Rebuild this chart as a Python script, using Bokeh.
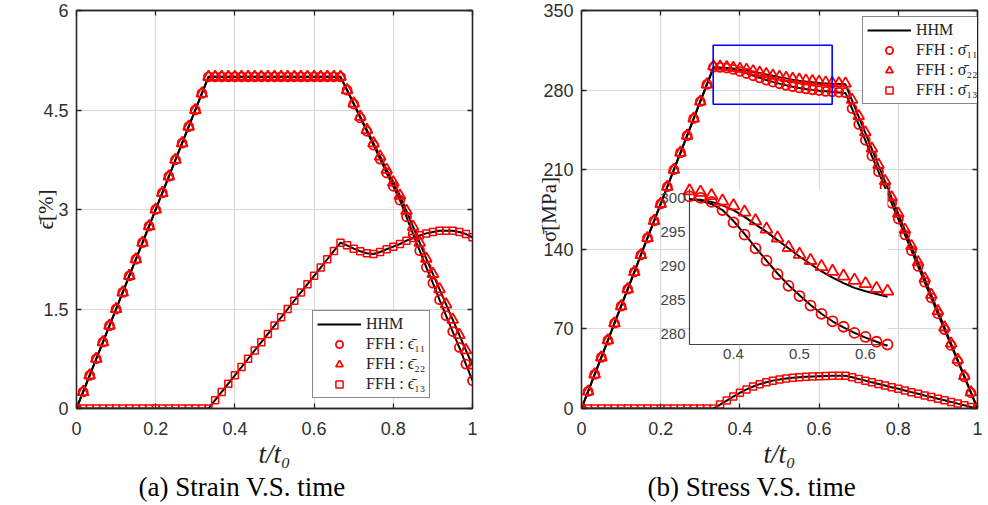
from bokeh.plotting import figure
from bokeh.models import Range1d, Legend, LegendItem, LinearAxis, FixedTicker, Title
from bokeh.layouts import row
from bokeh.embed import file_html
from bokeh.resources import INLINE
from bokeh.core.properties import value

# ---------------- data ----------------
t = [0.0, 0.0167, 0.0333, 0.05, 0.0667, 0.0833, 0.1, 0.1167, 0.1333, 0.15,
     0.1667, 0.1833, 0.2, 0.2167, 0.2333, 0.25, 0.2667, 0.2833, 0.3, 0.3167,
     0.3333, 0.35, 0.3667, 0.3833, 0.4, 0.4167, 0.4333, 0.45, 0.4667, 0.4833,
     0.5, 0.5167, 0.5333, 0.55, 0.5667, 0.5833, 0.6, 0.6167, 0.6333, 0.65,
     0.6667, 0.6833, 0.7, 0.7167, 0.7333, 0.75, 0.7667, 0.7833, 0.8, 0.8167,
     0.8333, 0.85, 0.8667, 0.8833, 0.9, 0.9167, 0.9333, 0.95, 0.9667, 0.9833, 1.0]

# strain [%]
e11_ffh = [0.0, 0.25, 0.5, 0.75, 1.0, 1.25, 1.5, 1.75, 2.0, 2.25, 2.5, 2.75, 3.0, 3.25, 3.5,
           3.75, 4.0, 4.25, 4.5, 4.75, 5.0,
           5.0, 5.0, 5.0, 5.0, 5.0, 5.0, 5.0, 5.0, 5.0, 5.0,
           5.0, 5.0, 5.0, 5.0, 5.0, 5.0, 5.0, 5.0, 5.0, 5.0,
           4.80, 4.59, 4.38, 4.18, 3.97, 3.76, 3.55, 3.35, 3.14, 2.89,
           2.63, 2.38, 2.13, 1.89, 1.64, 1.40, 1.16, 0.92, 0.67, 0.42]
e22_ffh = [0.0, 0.25, 0.5, 0.75, 1.0, 1.25, 1.5, 1.75, 2.0, 2.25, 2.5, 2.75, 3.0, 3.25, 3.5,
           3.75, 4.0, 4.25, 4.5, 4.75, 5.0,
           5.0, 5.0, 5.0, 5.0, 5.0, 5.0, 5.0, 5.0, 5.0, 5.0,
           5.0, 5.0, 5.0, 5.0, 5.0, 5.0, 5.0, 5.0, 5.0, 5.0,
           4.80, 4.60, 4.40, 4.20, 4.00, 3.80, 3.60, 3.41, 3.21, 2.98,
           2.74, 2.50, 2.26, 2.03, 1.80, 1.57, 1.34, 1.11, 0.88, 0.65]
e13_ffh = [0.0] * 21 + [
           0.125, 0.25, 0.375, 0.5, 0.625, 0.75, 0.875, 1.0, 1.125, 1.25,
           1.375, 1.5, 1.625, 1.75, 1.875, 2.0, 2.125, 2.25, 2.375, 2.5,
           2.46, 2.41, 2.37, 2.34, 2.33, 2.36, 2.40, 2.44, 2.48, 2.53,
           2.57, 2.61, 2.64, 2.66, 2.68, 2.68, 2.68, 2.66, 2.63, 2.58]
e11_hhm = e11_ffh
e22_hhm = e22_ffh
e13_hhm = e13_ffh

# stress [MPa]
ramp = [0.0, 15.0, 30.0, 45.0, 60.0, 75.0, 90.0, 105.0, 120.0, 135.0,
        150.0, 165.0, 180.0, 195.0, 210.0, 225.0, 240.0, 255.0, 270.0, 285.0]
s11_ffh = ramp + [
    300.2, 300.0, 299.4, 298.2, 296.4, 294.6, 292.6, 290.8, 288.8, 287.1,
    285.6, 284.2, 283.0, 281.9, 281.1, 280.2, 279.6, 278.9, 278.5, 278.1, 277.7,
    263.8, 249.9, 236.0, 222.1, 208.3, 194.4, 180.5, 166.6, 152.7, 138.8,
    124.9, 111.1, 97.2, 83.3, 69.4, 55.5, 41.6, 27.8, 13.9, 0.0]
s22_ffh = ramp + [
    301.0, 300.8, 300.3, 299.5, 298.8, 297.9, 296.6, 295.4, 294.1, 292.7,
    291.7, 290.8, 289.9, 289.2, 288.5, 287.9, 287.4, 286.7, 286.3, 286.0, 285.8,
    271.5, 257.2, 242.9, 228.6, 214.3, 200.0, 185.7, 171.4, 157.2, 142.9,
    128.6, 114.3, 100.0, 85.7, 71.4, 57.2, 42.9, 28.6, 14.3, 0.0]
s13_ffh = [0.0] * 21 + [
    3.5, 7.0, 10.5, 13.8, 16.8, 19.3, 21.4, 23.1, 24.5, 25.6,
    26.4, 27.0, 27.5, 27.9, 28.2, 28.4, 28.6, 28.7, 28.8, 28.8,
    27.4, 25.9, 24.5, 23.0, 21.6, 20.2, 18.7, 17.3, 15.8, 14.4,
    13.0, 11.5, 10.1, 8.6, 7.2, 5.8, 4.3, 2.9, 1.4, 0.0]
s11_hhm = ramp + [
    299.8, 299.6, 299.1, 298.2, 296.6, 294.7, 292.7, 290.8, 288.9, 287.2,
    285.7, 284.3, 283.0, 281.9, 281.0, 280.2, 279.5, 278.9, 278.3, 277.9, 277.5,
    263.6, 249.8, 235.9, 222.0, 208.1, 194.3, 180.4, 166.5, 152.6, 138.8,
    124.9, 111.0, 97.1, 83.3, 69.4, 55.5, 41.6, 27.8, 13.9, 0.0]
s22_hhm = ramp + [
    299.8, 299.7, 299.4, 298.9, 298.2, 297.2, 296.1, 295.0, 293.8, 292.6,
    291.4, 290.3, 289.2, 288.3, 287.5, 286.8, 286.3, 285.9, 285.5, 285.3, 285.1,
    270.8, 256.6, 242.3, 228.1, 213.8, 199.6, 185.3, 171.1, 156.8, 142.6,
    128.3, 114.1, 99.8, 85.6, 71.3, 57.0, 42.8, 28.5, 14.3, 0.0]
s13_hhm = s13_ffh

x_ticks = [0, 0.2, 0.4, 0.6, 0.8, 1.0]
x_tick_labels = ["0", "0.2", "0.4", "0.6", "0.8", "1"]
strain_ticks = [0, 1.5, 3, 4.5, 6]
strain_tick_labels = ["0", "1.5", "3", "4.5", "6"]
stress_ticks = [0, 70, 140, 210, 280, 350]
stress_tick_labels = ["0", "70", "140", "210", "280", "350"]

# zoom window (inset)
inset_t = [0.3333, 0.6333]
inset_s = [278.5, 301.3]
inset_x_ticks = [0.4, 0.5, 0.6]
inset_x_labels = ["0.4", "0.5", "0.6"]
inset_y_ticks = [280, 285, 290, 295, 300]
inset_y_labels = ["280", "285", "290", "295", "300"]
zoom_box_t = [0.3326, 0.633]
zoom_box_s = [267.5, 319.5]
inset_first, inset_last = 20, 39  # sample indices shown in inset

# ---------------- styling helpers ----------------
RED = "#ff0000"
AX = "#262626"
TICK_FONT = "Liberation Sans"
SERIF = "Liberation Serif"


def mirror_axis(ticks):
    return LinearAxis(ticker=FixedTicker(ticks=ticks), major_label_text_font_size="1px",
                      major_label_text_color=None, major_tick_in=5, major_tick_out=0,
                      minor_tick_line_color=None, axis_line_color=AX, axis_line_width=1.3,
                      major_tick_line_color=AX, major_tick_line_width=1.3,
                      major_label_standoff=0)


def make_fig(yr, yticks, ylabels, ylabel, border_left, border_right, label_standoff):
    p = figure(frame_width=396, frame_height=398, output_backend="svg",
               toolbar_location=None, x_range=Range1d(0, 1), y_range=Range1d(*yr),
               min_border_left=border_left, min_border_right=border_right,
               min_border_top=10, min_border_bottom=94)
    p.background_fill_color = "white"
    p.border_fill_color = "white"
    p.outline_line_color = AX
    p.outline_line_width = 1.3
    for ax, ticks, labels in ((p.xaxis[0], x_ticks, x_tick_labels),
                              (p.yaxis[0], yticks, ylabels)):
        ax.ticker = FixedTicker(ticks=ticks)
        ax.major_label_overrides = {tk: lb for tk, lb in zip(ticks, labels)}
        ax.major_tick_in = 5
        ax.major_tick_out = 0
        ax.minor_tick_line_color = None
        ax.axis_line_color = AX
        ax.axis_line_width = 1.3
        ax.major_tick_line_color = AX
        ax.major_tick_line_width = 1.3
        ax.major_label_text_font = TICK_FONT
        ax.major_label_text_font_size = "18px"
        ax.major_label_text_color = "#303030"
        ax.axis_label_text_font = SERIF
        ax.axis_label_text_font_style = "italic"
        ax.axis_label_text_color = "#222222"
    p.xaxis[0].major_label_standoff = 13
    p.yaxis[0].major_label_standoff = 8
    p.xaxis[0].axis_label = "t/t₀"
    p.xaxis[0].axis_label_text_font_size = "27px"
    p.xaxis[0].axis_label_standoff = 1
    p.yaxis[0].axis_label = ylabel
    p.yaxis[0].axis_label_text_font_size = "21px"
    p.yaxis[0].axis_label_text_font_style = "normal"
    p.yaxis[0].axis_label_standoff = label_standoff
    p.add_layout(mirror_axis(x_ticks), "above")
    p.add_layout(mirror_axis(yticks), "right")
    p.xgrid.ticker = FixedTicker(ticks=x_ticks)
    p.ygrid.ticker = FixedTicker(ticks=yticks)
    p.grid.grid_line_color = "#d9d9d9"
    p.grid.grid_line_width = 1.2
    return p


def add_caption(p, text, offset):
    cap = Title(text=text, align="left", offset=offset, text_font=SERIF,
                text_font_size="27px", text_font_style="normal", text_color="black",
                standoff=-3)
    p.add_layout(cap, "below")


def make_legend(items, loc):
    lg = Legend(items=items, location=loc, glyph_width=44, glyph_height=18,
                label_height=18, label_text_font=SERIF, label_text_font_size="16px",
                label_text_color="#222222", label_standoff=5, padding=4, spacing=2,
                margin=0, border_line_color="#111111", border_line_width=1.6,
                background_fill_color="white", background_fill_alpha=1.0)
    return lg


# ---------------- (a) strain ----------------
p1 = make_fig((0, 6), strain_ticks, strain_tick_labels, "ϵ̄[%]", 76, 20, -18)
add_caption(p1, "(a) Strain V.S. time", 62)

l1 = p1.line(t, e11_hhm, line_color="black", line_width=2)
p1.line(t, e22_hhm, line_color="black", line_width=2)
p1.line(t, e13_hhm, line_color="black", line_width=2)
c1 = p1.scatter(t, e11_ffh, marker="circle", size=9, line_color=RED, fill_color=None, line_width=1.8)
tr1 = p1.scatter(t, e22_ffh, marker="triangle", size=11, line_color=RED, fill_color=None, line_width=1.8)
sq1 = p1.scatter(t, e13_ffh, marker="square", size=7, line_color=RED, fill_color=None, line_width=1.5)

p1.add_layout(make_legend([
    LegendItem(label="HHM", renderers=[l1]),
    LegendItem(label="FFH : ϵ̄₁₁", renderers=[c1]),
    LegendItem(label="FFH : ϵ̄₂₂", renderers=[tr1]),
    LegendItem(label="FFH : ϵ̄₁₃", renderers=[sq1]),
], (236, 10)), "center")

# ---------------- (b) stress ----------------
p2 = make_fig((0, 350), stress_ticks, stress_tick_labels, "σ̄[MPa]", 89, 10, -21)
add_caption(p2, "(b) Stress V.S. time", 66)

l2 = p2.line(t, s11_hhm, line_color="black", line_width=2)
p2.line(t, s22_hhm, line_color="black", line_width=2)
p2.line(t, s13_hhm, line_color="black", line_width=2)
c2 = p2.scatter(t, s11_ffh, marker="circle", size=9, line_color=RED, fill_color=None, line_width=1.8)
tr2 = p2.scatter(t, s22_ffh, marker="triangle", size=11, line_color=RED, fill_color=None, line_width=1.8)
sq2 = p2.scatter(t, s13_ffh, marker="square", size=7, line_color=RED, fill_color=None, line_width=1.5)

p2.quad(left=[zoom_box_t[0]], right=[zoom_box_t[1]], bottom=[zoom_box_s[0]], top=[zoom_box_s[1]],
        fill_color=None, line_color="#0000ff", line_width=1.6)

# inset drawn through a sub-coordinate mapping of the main plot
xy = p2.subplot(x_source=Range1d(*inset_t), y_source=Range1d(*inset_s),
                x_target=Range1d(0.2727, 0.7727), y_target=Range1d(56.3, 193.1))
xy.quad(left=[inset_t[0]], right=[inset_t[1]], bottom=[inset_s[0]], top=[inset_s[1]],
        fill_color="white", line_color=None)
xy.line([inset_t[0], inset_t[0], inset_t[1]], [inset_s[1], inset_s[0], inset_s[0]],
        line_color="#444444", line_width=1.2)
ti = t[inset_first:inset_last]
xy.line(ti, s11_hhm[inset_first:inset_last], line_color="black", line_width=2)
xy.line(ti, s22_hhm[inset_first:inset_last], line_color="black", line_width=2)
xy.scatter(ti, s11_ffh[inset_first:inset_last], marker="circle", size=10, line_color=RED,
           fill_color=None, line_width=1.8)
xy.scatter(ti, s22_ffh[inset_first:inset_last], marker="triangle", size=12, line_color=RED,
           fill_color=None, line_width=1.8)
xy.text(x=inset_x_ticks, y=[inset_s[0]] * len(inset_x_ticks), text=inset_x_labels,
        text_align="center", text_baseline="top", y_offset=5,
        text_font=value(TICK_FONT), text_font_size="15px", text_color="#444444")
xy.text(x=[inset_t[0]] * len(inset_y_ticks), y=inset_y_ticks, text=inset_y_labels,
        text_align="right", text_baseline="middle", x_offset=-4,
        text_font=value(TICK_FONT), text_font_size="15px", text_color="#444444")

p2.add_layout(make_legend([
    LegendItem(label="HHM", renderers=[l2]),
    LegendItem(label="FFH : σ̄₁₁", renderers=[c2]),
    LegendItem(label="FFH : σ̄₂₂", renderers=[tr2]),
    LegendItem(label="FFH : σ̄₁₃", renderers=[sq2]),
], (281, 304)), "center")

layout = row(p1, p2)
open("out.html", "w").write(file_html(layout, INLINE))
